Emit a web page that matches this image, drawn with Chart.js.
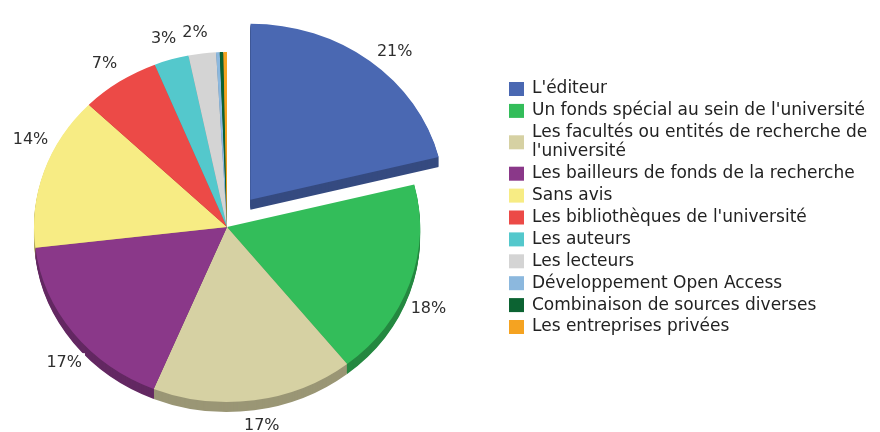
<!DOCTYPE html>
<html>
<head>
<meta charset="utf-8">
<script src="https://cdn.jsdelivr.net/npm/chart.js@4/dist/chart.umd.min.js"></script>
<style>
  html, body { margin: 0; padding: 0; background: #fff; }
</style>
</head>
<body>
<canvas id="financementChart" width="880" height="432"></canvas>
<script>
// --- données ---
const categories = [
  "L'éditeur",
  "Un fonds spécial au sein de l'université",
  "Les facultés ou entités de recherche de l'université",
  "Les bailleurs de fonds de la recherche",
  "Sans avis",
  "Les bibliothèques de l'université",
  "Les auteurs",
  "Les lecteurs",
  "Développement Open Access",
  "Combinaison de sources diverses",
  "Les entreprises privées"
];
const values = [21.1, 18.2, 16.9, 16.9, 14.2, 6.6, 2.9, 2.3, 0.3, 0.3, 0.3];
const colors = [
  '#4a68b2', '#33bd5a', '#d6d1a3', '#8a3889', '#f7ec84', '#ec4a47',
  '#54c8cc', '#d4d4d4', '#8cb8de', '#0c6332', '#f5a321'
];

const FONT = '"DejaVu Sans", "Lucida Grande", sans-serif';
const tilt = 0.907;  // aplatissement vertical du disque
const depth = 10;    // épaisseur de la tranche
// petit décalage angulaire (degrés) des étiquettes, comme sur l'original
const labelNudge = [3, 5, -1, -5, 8, 0, 0, -1, 0, 0, 0];

// disque incliné + tranche sombre en dessous
const tiltPlugin = {
  id: 'tilt3d',
  beforeDatasetsDraw(chart) {
    const ctx = chart.ctx;
    const arcs = chart.getDatasetMeta(0).data;
    const cx = arcs[0].x, cy = arcs[0].y;
    ctx.save();
    ctx.translate(cx, cy);
    ctx.scale(1, tilt);
    ctx.translate(-cx, -cy);
    ctx.save();
    ctx.filter = 'brightness(0.72)';
    for (let d = depth; d > 0; d--) {
      ctx.save();
      ctx.translate(0, d / tilt);
      arcs.forEach((a) => a.draw(ctx));
      ctx.restore();
    }
    ctx.restore();
  },
  afterDatasetsDraw(chart) {
    const ctx = chart.ctx;
    ctx.restore();
    // pourcentages autour du disque
    const arcs = chart.getDatasetMeta(0).data;
    const total = values.reduce((s, v) => s + v, 0);
    ctx.save();
    ctx.font = '16px ' + FONT;
    ctx.textAlign = 'center';
    ctx.textBaseline = 'middle';
    arcs.forEach((a, i) => {
      const pct = Math.round((values[i] / total) * 100);
      if (pct < 1) return;
      const mid = (a.startAngle + a.endAngle) / 2;
      const off = (a.options.offset || 0) / 4;
      const ox = a.x + Math.cos(mid) * off;
      const oy = a.y + Math.sin(mid) * off;
      const ang = mid + (labelNudge[i] * Math.PI) / 180;
      const r = a.outerRadius + 27;
      const x = ox + Math.cos(ang) * r;
      const yRaw = oy + Math.sin(ang) * r;
      const y = a.y + (yRaw - a.y) * tilt + (Math.sin(ang) > 0 ? 2 : 3);
      const txt = pct + '%';
      const w = ctx.measureText(txt).width;
      ctx.fillStyle = '#fff';
      ctx.fillRect(x - w / 2 - 3, y - 10, w + 6, 20);
      ctx.fillStyle = '#2e2e2e';
      ctx.fillText(txt, x, y);
    });
    ctx.restore();
  }
};

function wrapText(ctx, text, maxW) {
  const words = text.split(' ');
  const lines = [];
  let cur = '';
  words.forEach((w) => {
    const test = cur ? cur + ' ' + w : w;
    if (cur && ctx.measureText(test).width > maxW) {
      lines.push(cur);
      cur = w;
    } else {
      cur = test;
    }
  });
  lines.push(cur);
  return lines;
}

// légende à droite
const legendPlugin = {
  id: 'sideLegend',
  afterDraw(chart) {
    const ctx = chart.ctx;
    ctx.save();
    ctx.font = '17px ' + FONT;
    ctx.textBaseline = 'middle';
    let y = 89;
    categories.forEach((label, i) => {
      const lines = wrapText(ctx, label, 344);
      const boxY = y + ((lines.length - 1) * 19) / 2;
      ctx.fillStyle = colors[i];
      ctx.fillRect(509, boxY - 7, 15, 14);
      ctx.fillStyle = '#222';
      lines.forEach((ln, j) => ctx.fillText(ln, 532, y + j * 19));
      y += 21.9 + (lines.length - 1) * 19;
    });
    ctx.restore();
  }
};

const ctx = document.getElementById('financementChart').getContext('2d');
new Chart(ctx, {
  type: 'pie',
  data: {
    labels: categories,
    datasets: [{
      data: values,
      backgroundColor: colors,
      borderWidth: 0,
      offset: (c) => (c.dataIndex === 0 ? 152 : 0),
    }],
  },
  options: {
    responsive: false,
    animation: false,
    radius: 193,
    layout: { padding: { left: 0, right: 426, top: 22, bottom: 0 } },
    plugins: {
      legend: { display: false },
      tooltip: { enabled: false },
    },
  },
  plugins: [tiltPlugin, legendPlugin],
});
</script>
</body>
</html>
